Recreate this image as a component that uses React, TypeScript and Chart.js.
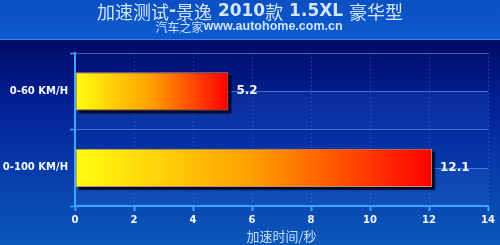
import React, { useEffect, useRef } from "react";
import { Chart, registerables } from "chart.js";

Chart.register(...registerables);

// ---- data ----
const categories: string[] = ["0-60 KM/H", "0-100 KM/H"];
const accelTimes: number[] = [5.2, 12.1];
const xMin = 0;
const xMax = 14;
const xStep = 2;
const axisTitle = "加速时间/秒";
// title runs: [text, kind]  kind: "c" = CJK, "v" = wide bold latin, "a" = arial bold
const titleRuns: [string, string][] = [
  ["加速测试", "c"],
  ["-", "v"],
  ["景逸", "c"],
  [" 2010", "v"],
  ["款", "c"],
  [" 1.5XL ", "v"],
  ["豪华型", "c"],
];
const subtitleRuns: [string, string][] = [
  ["汽车之家", "c"],
  ["www.autohome.com.cn", "a"],
];

const CJK = '"Noto Sans CJK SC", sans-serif';
const LAT = '"Liberation Sans", Arial, sans-serif';
const WIDE = '"DejaVu Sans", Verdana, sans-serif';

function drawRuns(
  ctx: CanvasRenderingContext2D,
  runs: [string, string][],
  cx: number,
  cy: number,
  cjkSize: number,
  latSize: number,
  color: string
) {
  const fontFor = (k: string) =>
    k === "c"
      ? `${cjkSize}px ${CJK}`
      : k === "v"
      ? `bold ${latSize}px ${WIDE}`
      : `bold ${latSize}px ${LAT}`;
  let total = 0;
  const widths: number[] = [];
  for (const [t, k] of runs) {
    ctx.font = fontFor(k);
    const w = ctx.measureText(t).width;
    widths.push(w);
    total += w;
  }
  let x = cx - total / 2;
  ctx.fillStyle = color;
  ctx.textBaseline = "middle";
  ctx.textAlign = "left";
  runs.forEach(([t, k], i) => {
    ctx.font = fontFor(k);
    ctx.fillText(t, x, cy);
    x += widths[i];
  });
}

const decorPlugin = {
  id: "decor",
  beforeDraw(chart: any) {
    const { ctx, width, height } = chart;
    ctx.save();
    const g = ctx.createLinearGradient(0, 40, 0, height);
    g.addColorStop(0, "#010b68");
    g.addColorStop(0.35, "#03259a");
    g.addColorStop(1, "#0b58bc");
    ctx.fillStyle = g;
    ctx.fillRect(0, 0, width, height);
    const h = ctx.createLinearGradient(0, 0, 0, 40);
    h.addColorStop(0, "#0b4fc2");
    h.addColorStop(1, "#0d5bd0");
    ctx.fillStyle = h;
    ctx.fillRect(0, 0, width, 40);
    ctx.fillStyle = "#3f84e0";
    ctx.fillRect(0, 39, width, 1);
    ctx.restore();
  },
  beforeDatasetsDraw(chart: any) {
    const { ctx, chartArea } = chart;
    const y = chart.scales.y;
    ctx.save();
    categories.forEach((_, i) => {
      const c = y.getPixelForValue(i);
      const half = y.getPixelForValue(1) - y.getPixelForValue(0);
      ctx.fillStyle = "rgba(90,160,255,0.10)";
      ctx.fillRect(chartArea.left, c, chartArea.right - chartArea.left, half / 2);
      ctx.strokeStyle = "rgba(110,170,255,0.55)";
      ctx.lineWidth = 1;
      ctx.beginPath();
      ctx.moveTo(chartArea.left, Math.round(c) + 0.5);
      ctx.lineTo(chartArea.right, Math.round(c) + 0.5);
      ctx.stroke();
    });
    ctx.restore();
  },
  beforeDatasetDraw(chart: any, args: any) {
    const { ctx } = chart;
    const meta = chart.getDatasetMeta(args.index);
    ctx.save();
    ctx.fillStyle = "rgba(0,0,20,0.75)";
    ctx.shadowColor = "rgba(0,0,20,0.6)";
    ctx.shadowBlur = 3;
    meta.data.forEach((bar: any) => {
      const p = bar.getProps(["x", "y", "base", "height"], true);
      const top = p.y - p.height / 2;
      ctx.fillRect(p.base + 3, top + 3, p.x - p.base, p.height);
    });
    ctx.restore();
  },
  afterDatasetsDraw(chart: any) {
    const { ctx } = chart;
    const meta = chart.getDatasetMeta(0);
    ctx.save();
    ctx.font = `bold 12px ${WIDE}`;
    ctx.fillStyle = "#f4f8ff";
    ctx.textBaseline = "middle";
    ctx.textAlign = "left";
    meta.data.forEach((bar: any, i: number) => {
      const p = bar.getProps(["x", "y"], true);
      ctx.fillText(String(accelTimes[i]), p.x + 8, p.y);
    });
    ctx.restore();
  },
  afterDraw(chart: any) {
    const { ctx, chartArea } = chart;
    ctx.save();
    drawRuns(ctx, titleRuns, 250, 12, 18, 17, "#d2e6ff");
    drawRuns(ctx, subtitleRuns, 249, 27, 12, 12.5, "#cfe2ff");
    ctx.font = `13px ${CJK}`;
    ctx.fillStyle = "#c9ddff";
    ctx.textAlign = "center";
    ctx.textBaseline = "middle";
    ctx.fillText(axisTitle, (chartArea.left + chartArea.right) / 2, 236);
    ctx.restore();
  },
};

export default function App() {
  const ref = useRef<HTMLCanvasElement | null>(null);
  useEffect(() => {
    document.body.style.margin = "0";
    const canvas = ref.current!;
    const axisBlue = "#3ea6ff";
    const chart = new Chart(canvas, {
      type: "bar",
      data: {
        labels: categories,
        datasets: [
          {
            data: accelTimes,
            backgroundColor: (c: any) => {
              const ch = c.chart;
              const xs = ch.scales && ch.scales.x;
              if (!xs || c.dataIndex === undefined) return "#ff9900";
              const x0 = xs.getPixelForValue(0);
              const x1 = xs.getPixelForValue(accelTimes[c.dataIndex]);
              if (!isFinite(x0) || !isFinite(x1) || x1 === x0) return "#ff9900";
              const g = ch.ctx.createLinearGradient(x0, 0, x1, 0);
              g.addColorStop(0, "#ffff10");
              g.addColorStop(0.5, "#ff9e00");
              g.addColorStop(1, "#ff0000");
              return g;
            },
            borderColor: "rgba(230,150,110,0.9)",
            borderWidth: 1,
            borderSkipped: false,
            barPercentage: 0.5,
            categoryPercentage: 1,
          },
        ],
      },
      options: {
        indexAxis: "y",
        responsive: false,
        animation: false,
        devicePixelRatio: 1,
        layout: { padding: { top: 53, right: 12, left: 0, bottom: 0 } },
        plugins: {
          legend: { display: false },
          tooltip: { enabled: false },
          title: { display: false },
        },
        scales: {
          x: {
            type: "linear",
            min: xMin,
            max: xMax,
            ticks: {
              stepSize: xStep,
              color: "#f4f8ff",
              font: { family: WIDE, size: 10, weight: "bold" },
              padding: 3,
            },
            grid: {
              color: "rgba(120,180,255,0.45)",
              lineWidth: 1,
              borderDash: [1, 3],
              tickColor: axisBlue,
              tickLength: 5,
              tickWidth: 2,
            },
            border: { display: true, color: axisBlue, width: 2, dash: [1, 3] },
            afterFit: (s: any) => {
              s.height = 39;
            },
          },
          y: {
            type: "category",
            offset: true,
            ticks: {
              color: "#f4f8ff",
              font: { family: WIDE, size: 10, weight: "bold" },
              padding: 2,
            },
            grid: {
              offset: true,
              color: "rgba(110,170,255,0.55)",
              lineWidth: 1,
              tickColor: axisBlue,
              tickLength: 5,
              tickWidth: 1.5,
            },
            border: { display: true, color: axisBlue, width: 2 },
            afterFit: (s: any) => {
              s.width = 75;
            },
          },
        },
      },
      plugins: [decorPlugin],
    } as any);
    return () => chart.destroy();
  }, []);
  return (
    <canvas
      ref={ref}
      width={500}
      height={245}
      style={{ display: "block", width: 500, height: 245 }}
    />
  );
}
